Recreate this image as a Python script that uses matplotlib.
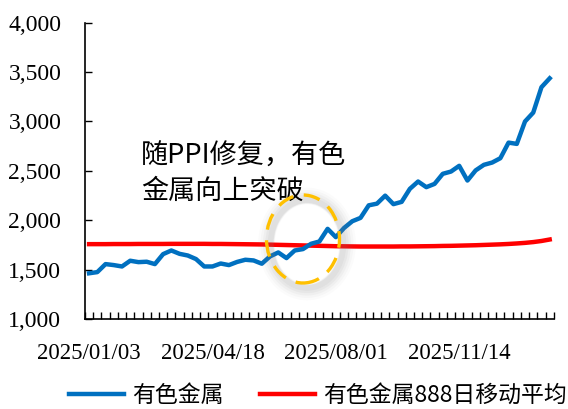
import matplotlib
matplotlib.use('Agg')
import matplotlib.pyplot as plt
from matplotlib.patches import Ellipse
import pandas as pd

plt.rcParams['font.family'] = ['Noto Sans CJK SC', 'DejaVu Sans']

# weekly closes, starting 2025/01/03
dates = pd.date_range('2025-01-03', periods=57, freq='W-FRI')
date_labels = [d.strftime('%Y/%m/%d') for d in dates]

metals = [1463, 1475, 1556, 1546, 1532, 1590, 1576, 1580, 1556, 1657,
          1694, 1660, 1643, 1607, 1532, 1532, 1562, 1546, 1578, 1600,
          1593, 1560, 1634, 1674, 1617, 1694, 1708, 1762, 1785, 1913,
          1829, 1922, 1990, 2024, 2151, 2168, 2249, 2163, 2186, 2318,
          2392, 2335, 2368, 2470, 2493, 2551, 2402, 2505, 2561, 2584,
          2628, 2786, 2773, 3000, 3090, 3347, 3437]

ma888 = [1758, 1758, 1758, 1759, 1759, 1759, 1760, 1760, 1760, 1760,
         1761, 1761, 1761, 1761, 1761, 1760, 1760, 1759, 1758, 1757,
         1756, 1755, 1753, 1751, 1749, 1747, 1745, 1743, 1741, 1739,
         1737, 1736, 1735, 1734, 1734, 1734, 1734, 1734, 1735, 1735,
         1736, 1737, 1738, 1740, 1741, 1743, 1745, 1747, 1750, 1753,
         1756, 1760, 1765, 1771, 1779, 1790, 1805]

label_idx = [0, 15, 30, 45]
serif = 'Liberation Serif'

fig = plt.figure(figsize=(5.68, 4.09), dpi=100)
ax = fig.add_axes([0.1496, 0.22, 0.8254, 0.7245])

x = list(range(len(metals)))
ax.plot(x, metals, color='#0070C0', lw=3.2, label='有色金属', solid_joinstyle='round', zorder=3)
ax.plot(x, ma888, color='#FF0000', lw=3.2, label='有色金属888日移动平均', zorder=2)

ax.set_xlim(-0.5, len(metals) - 0.5)
ax.set_ylim(1000, 4000)
ax.set_yticks(range(1000, 4001, 500))
ax.set_yticklabels([f'{v:,}' for v in range(1000, 4001, 500)], fontfamily=serif, fontsize=17)
ax.tick_params(axis='y', direction='in', length=5, width=1, pad=17)

ax.set_xticks(label_idx)
ax.set_xticklabels([date_labels[i] for i in label_idx], fontfamily=serif, fontsize=16.5)
ax.tick_params(axis='x', which='major', length=0, pad=17)
ax.set_xticks([i - 0.5 for i in range(len(metals) + 1)], minor=True)
ax.tick_params(axis='x', which='minor', direction='in', length=5, width=1)

for s in ['top', 'right']:
    ax.spines[s].set_visible(False)
for s in ['left', 'bottom']:
    ax.spines[s].set_linewidth(1.2)

# dashed circle around the breakout, with a soft shadow
W, H = 568, 409
cx, cy, ew, eh = 303, 239, 73, 88
for k, a in enumerate([0.07, 0.06, 0.05, 0.04, 0.03]):
    sh = Ellipse(((cx + 4) / W, 1 - (cy + 5) / H), (ew + 2 * k) / W, (eh + 2 * k) / H,
                 transform=fig.transFigure, fill=False, ec='gray', lw=4 + 2 * k, alpha=a, zorder=1)
    fig.add_artist(sh)
ell = Ellipse((cx / W, 1 - cy / H), ew / W, eh / H, transform=fig.transFigure,
              fill=False, ec='#FFC000', lw=2.4, linestyle=(0, (5, 3.2)), zorder=5)
fig.add_artist(ell)

fig.text(141 / W, 1 - 156 / H, '随PPI修复，有色', fontsize=19.5, va='center', ha='left')
fig.text(141 / W, 1 - 191 / H, '金属向上突破', fontsize=19.5, va='center', ha='left')

fig.legend(loc='lower center', bbox_to_anchor=(0.56, -0.045), ncol=2, frameon=False,
           fontsize=16.5, handlelength=2.4, columnspacing=1.6, handletextpad=0.35)

fig.savefig('out.png', dpi=100)
